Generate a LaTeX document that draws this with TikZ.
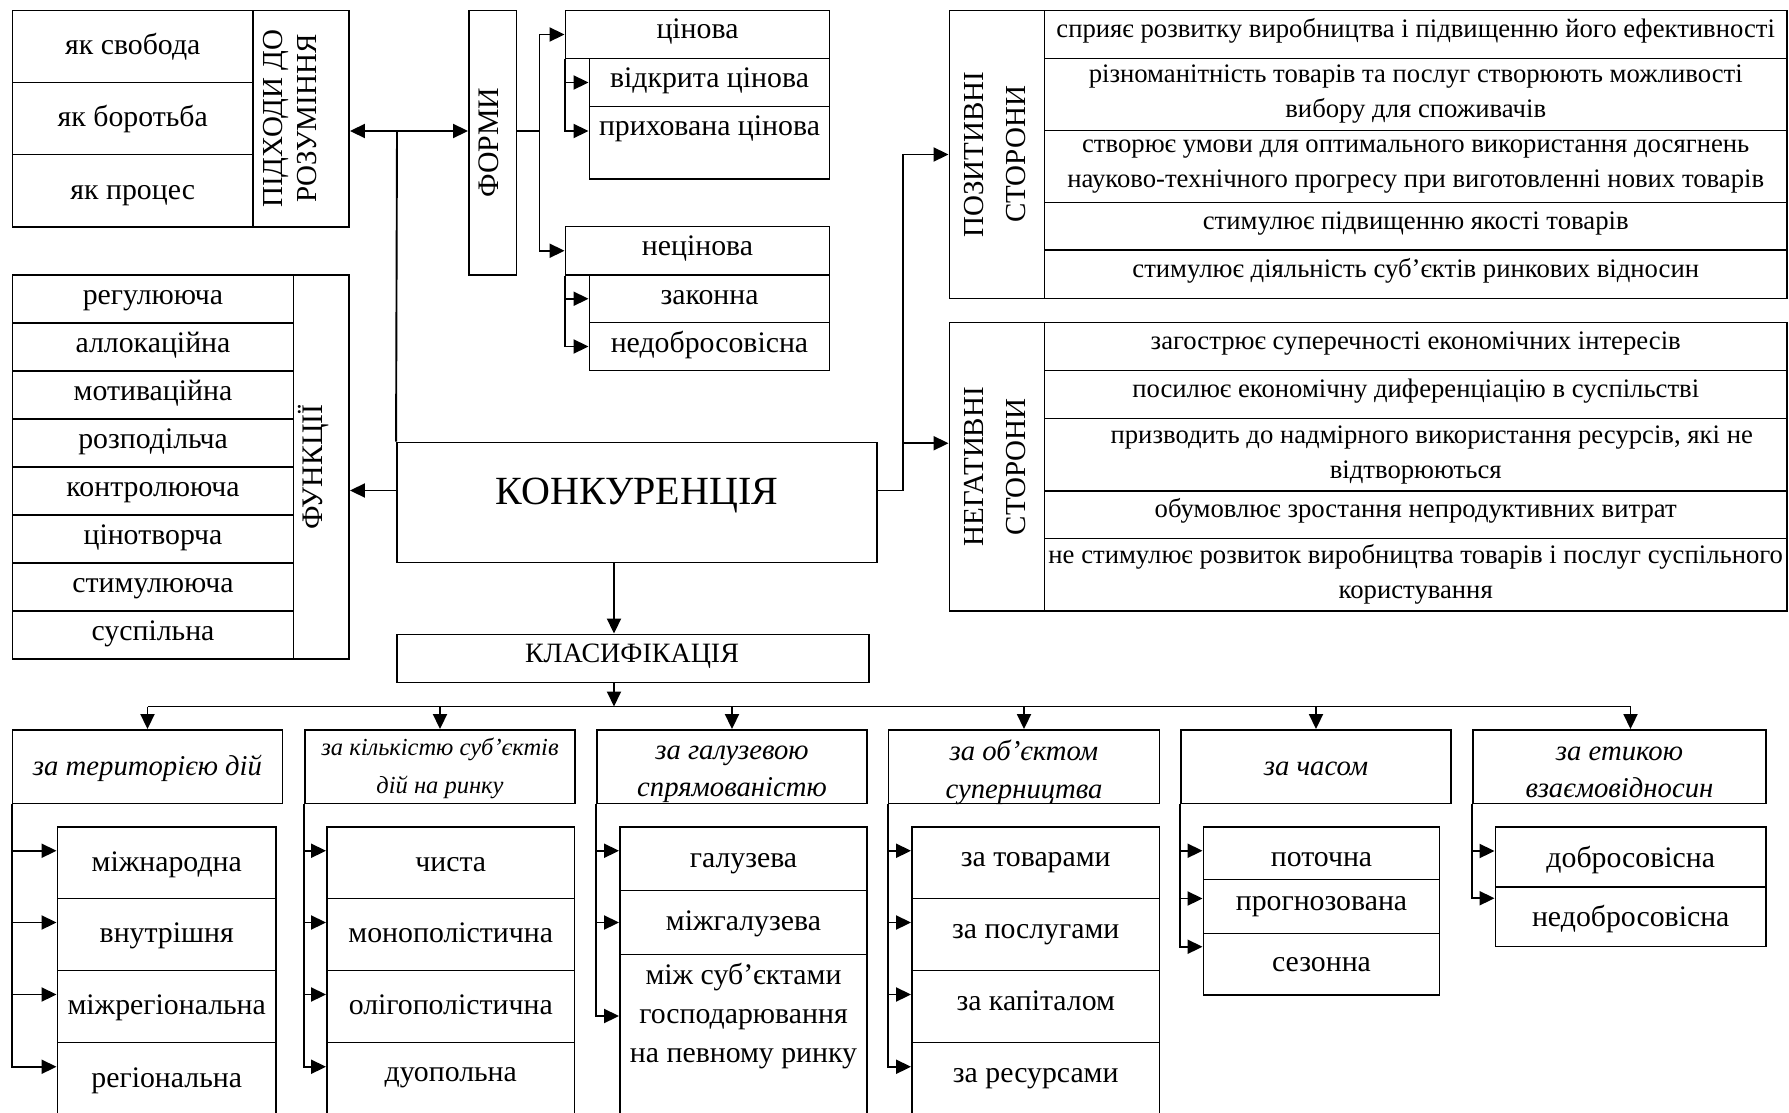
\documentclass[tikz,border=0pt]{standalone}
\usepackage{fontspec}
\setmainfont{Liberation Serif}
\usetikzlibrary{arrows.meta}

% font sizes used in the scheme
\newcommand\fsBody{\fontsize{29.8}{34}\selectfont}
\newcommand\fsSide{\fontsize{26.7}{35}\selectfont}
\newcommand\fsMain{\fontsize{40}{48}\selectfont}
\newcommand\fsKlas{\fontsize{28}{33}\selectfont}
\newcommand\fsCat{\fontsize{28.7}{37.5}\selectfont\itshape}
\newcommand\fsCatS{\fontsize{24.5}{38}\selectfont\itshape}
\newcommand\fsVert{\fontsize{29}{34.5}\selectfont}
\newcommand\fsVertW{\fontsize{29}{42}\selectfont}
\newcommand\fsThree{\fontsize{29.8}{39}\selectfont}

% a framed cell given by its corners: [options]{name}{x1}{y1}{x2}{y2}{text}
\newcommand\cellbox[7][]{%
  \node[cell,minimum width={#5-#3},minimum height={#6-#4},#1] (#2)
    at ({(#3+#5)/2},{(#4+#6)/2}) {#7};}

\begin{document}
\begin{tikzpicture}[x=1pt,y=-1pt,
  cell/.style={draw,line width=1.9pt,inner sep=0pt,align=center,font=\fsBody,
    text height=24pt,text depth=7.5pt},
  lift/.style={text depth=#1},
  side/.style={font=\fsSide,text height=18.7pt,text depth=12.7pt},
  sidem/.style={font=\fsSide,text height=,text depth=},
  lab/.style={inner sep=0pt,align=center},
  conn/.style={line width=1.9pt},
  arr/.style={conn,-{Triangle[length=15pt,width=14pt]}},
  darr/.style={conn,{Triangle[length=15pt,width=14pt]}-{Triangle[length=15pt,width=14pt]}}]

\path[use as bounding box,fill=white] (0,0) rectangle (1789,1113);
\clip (0,0) rectangle (1789,1113);

% ---------- approaches ----------
\cellbox{ap1}{12.5}{10.5}{253}{82.5}{як свобода}
\cellbox{ap2}{12.5}{82.5}{253}{154.5}{як боротьба}
\cellbox{ap3}{12.5}{154.5}{253}{227}{як процес}
\cellbox{apL}{253}{10.5}{349}{227}{}
\node[lab,rotate=90,font=\fsVert] (apT) at (290,118.75) {ПІДХОДИ ДО\\РОЗУМІННЯ};

% ---------- functions ----------
\cellbox[lift=13pt]{f1}{12.5}{275}{293.5}{323}{регулююча}
\cellbox[lift=13pt]{f2}{12.5}{323}{293.5}{371}{аллокаційна}
\cellbox[lift=13pt]{f3}{12.5}{371}{293.5}{419}{мотиваційна}
\cellbox[lift=13pt]{f4}{12.5}{419}{293.5}{467}{розподільча}
\cellbox[lift=13pt]{f5}{12.5}{467}{293.5}{515}{контролююча}
\cellbox[lift=13pt]{f6}{12.5}{515}{293.5}{563}{цінотворча}
\cellbox[lift=13pt]{f7}{12.5}{563}{293.5}{611}{стимулююча}
\cellbox[lift=13pt]{f8}{12.5}{611}{293.5}{659}{суспільна}
\cellbox{fL}{293.5}{275}{349}{659}{}
\node[lab,rotate=90,font=\fsBody] (fT) at (314,467) {ФУНКЦІЇ};

% ---------- forms ----------
\cellbox{forms}{469}{10.5}{516.5}{275}{}
\node[lab,rotate=90,font=\fsBody] (formsT) at (489,142.75) {ФОРМИ};
\cellbox[lift=16pt]{cin}{565.5}{10.5}{829.5}{58.5}{цінова}
\cellbox[lift=14pt]{vid}{589.5}{58.5}{829.5}{106.5}{відкрита цінова}
\cellbox{pryh}{589.5}{106.5}{829.5}{179}{}
\node[lab,font=\fsBody] (pryhT) at (709.5,129) {прихована цінова};
\cellbox[lift=14pt]{necin}{565.5}{226.5}{829.5}{275}{нецінова}
\cellbox[lift=12pt]{zak}{589.5}{275}{829.5}{322.5}{законна}
\cellbox[lift=12pt]{nedob}{589.5}{322.5}{829.5}{370.5}{недобросовісна}

% ---------- competition and classification ----------
\cellbox{konk}{397}{442.5}{877}{562.5}{}
\node[lab,font=\fsMain,anchor=base] (kT) at (637,504) {КОНКУРЕНЦІЯ};
\coordinate (kmid) at (637,490.5);
\cellbox{klas}{397}{634.5}{869}{682.5}{}
\node[lab,font=\fsKlas,anchor=base] (klT) at (632,662.5) {КЛАСИФІКАЦІЯ};

% ---------- positive sides ----------
\cellbox{posL}{949.5}{10.5}{1044.5}{298.5}{}
\node[lab,rotate=90,font=\fsVertW] (posT) at (995,154.5) {ПОЗИТИВНІ\\СТОРОНИ};
\cellbox[side]{p1}{1044.5}{10.5}{1787}{58.5}{сприяє розвитку виробництва і підвищенню його ефективності}
\cellbox[sidem]{p2}{1044.5}{58.5}{1787}{130.5}{різноманітність товарів та послуг створюють можливості\\вибору для споживачів}
\cellbox[sidem]{p3}{1044.5}{130.5}{1787}{202.5}{створює умови для оптимального використання досягнень\\науково-технічного прогресу при виготовленні нових товарів}
\cellbox[side]{p4}{1044.5}{202.5}{1787}{250}{стимулює підвищенню якості товарів}
\cellbox[side]{p5}{1044.5}{250}{1787}{298.5}{стимулює діяльність суб'єктів ринкових відносин}

% ---------- negative sides ----------
\cellbox{negL}{949.5}{322.5}{1044.5}{611}{}
\node[lab,rotate=90,font=\fsVertW] (negT) at (995,466.75) {НЕГАТИВНІ\\СТОРОНИ};
\cellbox[side]{n1}{1044.5}{322.5}{1787}{370.5}{загострює суперечності економічних інтересів}
\cellbox[side]{n2}{1044.5}{370.5}{1787}{418.5}{посилює економічну диференціацію в суспільстві}
\cellbox[sidem]{n3}{1044.5}{418.5}{1787}{491}{\hspace*{32pt}призводить до надмірного використання ресурсів, які не\\відтворюються}
\cellbox[side]{n4}{1044.5}{491}{1787}{538.5}{обумовлює зростання непродуктивних витрат}
\cellbox[sidem]{n5}{1044.5}{538.5}{1787}{611}{не стимулює розвиток виробництва товарів і послуг суспільного\\користування}

% ---------- classification groups ----------
\cellbox[font=\fsCat]{c1}{12.5}{730}{282.5}{803.5}{за територією дій}
\cellbox{c2}{305}{730}{575}{803.5}{}
\node[lab,font=\fsCatS] (c2T) at (440,768) {за кількістю суб’єктів\\дій на ринку};
\cellbox{c3}{597}{730}{867}{803.5}{}
\node[lab,font=\fsCat] (c3T) at (732,774.5) {за галузевою\\спрямованістю};
\cellbox{c4}{888.5}{730}{1159.5}{803.5}{}
\node[lab,font=\fsCat] (c4T) at (1024,772.5) {за об’єктом\\суперництва};
\cellbox[font=\fsCat]{c5}{1181}{730}{1451}{803.5}{за часом}
\cellbox{c6}{1473}{730}{1766}{803.5}{}
\node[lab,font=\fsCat] (c6T) at (1619.5,772.5) {за етикою\\взаємовідносин};

\cellbox{s11}{57.5}{827}{276}{898.5}{міжнародна}
\cellbox{s12}{57.5}{898.5}{276}{970.5}{внутрішня}
\cellbox{s13}{57.5}{970.5}{276}{1042.5}{міжрегіональна}
\cellbox{s14}{57.5}{1042.5}{276}{1115}{регіональна}

\cellbox{s21}{327}{827}{574.5}{898.5}{чиста}
\cellbox{s22}{327}{898.5}{574.5}{970.5}{монополістична}
\cellbox{s23}{327}{970.5}{574.5}{1042.5}{олігополістична}
\cellbox[lift=18pt]{s24}{327}{1042.5}{574.5}{1115}{дуопольна}

\cellbox{s31}{620}{827}{867}{890.5}{галузева}
\cellbox{s32}{620}{890.5}{867}{954.5}{міжгалузева}
\cellbox{s33}{620}{954.5}{867}{1125}{}
\node[lab,font=\fsThree] (s33T) at (743.5,1016) {між суб’єктами\\господарювання\\на певному ринку};

\cellbox[lift=16.5pt]{s41}{912}{827}{1159.5}{898.5}{за товарами}
\cellbox[lift=16.5pt]{s42}{912}{898.5}{1159.5}{970.5}{за послугами}
\cellbox[lift=16.5pt]{s43}{912}{970.5}{1159.5}{1042.5}{за капіталом}
\cellbox[lift=16.5pt]{s44}{912}{1042.5}{1159.5}{1115}{за ресурсами}

\cellbox[text height=33.6pt]{s51}{1203.5}{827}{1439.5}{879.5}{поточна}
\cellbox[lift=16.7pt]{s52}{1203.5}{879.5}{1439.5}{933.5}{прогнозована}
\cellbox[lift=10pt]{s53}{1203.5}{933.5}{1439.5}{995}{сезонна}

\cellbox[text height=27.8pt]{s61}{1495.5}{827}{1766}{887}{добросовісна}
\cellbox[text height=27.8pt]{s62}{1495.5}{887}{1766}{946.5}{недобросовісна}

% ---------- connectors: upper part ----------
\coordinate (hub) at (397,131);
\coordinate (fb) at (539.5,131);
\draw[darr] (apL.east |- hub) -- (forms.west |- hub);
\draw[conn] (hub) -- (konk.north west);
\draw[conn] (forms.east |- fb) -- (fb);
\draw[arr] (fb) |- (cin.west);
\draw[arr] (fb) |- (necin.west);
\draw[arr] (cin.south west) |- (vid.west);
\draw[arr] (cin.south west) |- ([yshift=11.75pt]pryh.west);
\draw[arr] (necin.south west) |- (zak.west);
\draw[arr] (necin.south west) |- (nedob.west);

\draw[arr] (konk.west |- kmid) -- (fL.east |- kmid);
\coordinate (pv) at (903,154.5);
\coordinate (na) at ([yshift=23.5pt]negL.west);
\draw[conn] (konk.east |- kmid) -| (pv);
\draw[arr] (pv) -- (posL.west);
\draw[arr] (pv |- na) -- (na);

% ---------- connectors: classification ----------
\draw[arr] ([xshift=-23pt]konk.south) -- ([xshift=-23pt]konk.south |- klas.north);
\coordinate (bus) at (614,706.5);
\coordinate (c6in) at ([xshift=11pt]c6.north);
\draw[arr] (klas.south -| bus) -- (bus);
\draw[conn] (c1.north |- bus) -- (c6in |- bus);
\foreach \c in {c1,c2,c3,c4,c5} \draw[arr] (\c.north |- bus) -- (\c.north);
\draw[arr] (c6in |- bus) -- (c6in);

\foreach \s in {s11,s12,s13,s14} \draw[arr] (c1.south west) |- ([yshift=12pt]\s.west);
\foreach \s in {s21,s22,s23,s24} \draw[arr] (c2.south west) |- ([yshift=12pt]\s.west);
\foreach \s in {s41,s42,s43,s44} \draw[arr] (c4.south west) |- ([yshift=12pt]\s.west);
\draw[arr] (c3.south west) |- ([yshift=8pt]s31.west);
\draw[arr] (c3.south west) |- (s32.west);
\draw[arr] (c3.south west) |- (s33.west |- s33T);
\draw[arr] (c5.south west) |- ([yshift=2.5pt]s51.west);
\draw[arr] (c5.south west) |- ([yshift=8pt]s52.west);
\draw[arr] (c5.south west) |- ([yshift=17.5pt]s53.west);
\draw[arr] (c6.south west) |- ([yshift=6pt]s61.west);
\draw[arr] (c6.south west) |- ([yshift=18.5pt]s62.west);
\end{tikzpicture}
\end{document}
